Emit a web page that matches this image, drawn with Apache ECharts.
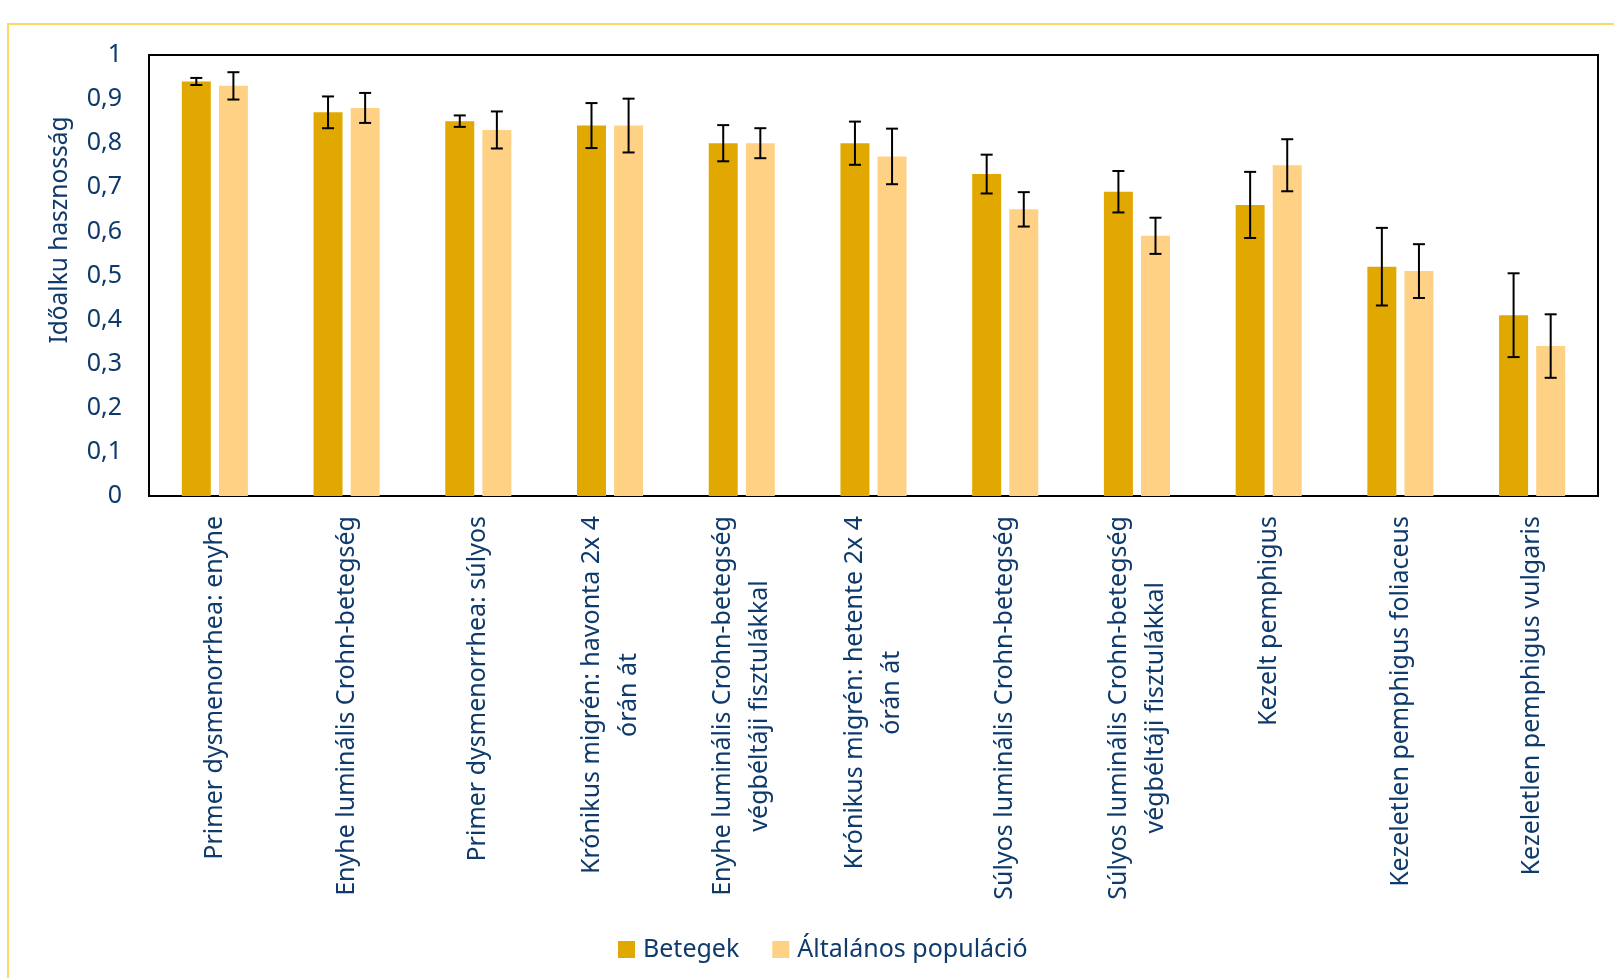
<!DOCTYPE html>
<html>
<head>
<meta charset="utf-8">
<script src="https://cdn.jsdelivr.net/npm/echarts@6/dist/echarts.min.js"></script>
<style>
html,body{margin:0;padding:0;background:#fff;}
#chart{width:1614px;height:978px;}
</style>
</head>
<body>
<div id="chart"></div>
<script>
const categories = [
  "Primer dysmenorrhea: enyhe",
  "Enyhe luminális Crohn-betegség",
  "Primer dysmenorrhea: súlyos",
  "Krónikus migrén: havonta 2x 4\nórán át",
  "Enyhe luminális Crohn-betegség\nvégbéltáji fisztulákkal",
  "Krónikus migrén: hetente 2x 4\nórán át",
  "Súlyos luminális Crohn-betegség",
  "Súlyos luminális Crohn-betegség\nvégbéltáji fisztulákkal",
  "Kezelt pemphigus",
  "Kezeletlen pemphigus foliaceus",
  "Kezeletlen pemphigus vulgaris"
];
const seriesNames = ["Betegek", "Általános populáció"];
const betegek =    [0.94, 0.87, 0.85, 0.84, 0.80, 0.80, 0.73, 0.69, 0.66, 0.52, 0.41];
const altalanos =  [0.93, 0.88, 0.83, 0.84, 0.80, 0.77, 0.65, 0.59, 0.75, 0.51, 0.34];
const betegekErr = [0.008, 0.036, 0.013, 0.051, 0.041, 0.049, 0.044, 0.047, 0.075, 0.088, 0.095];
const altalanosErr = [0.031, 0.034, 0.042, 0.061, 0.034, 0.063, 0.039, 0.041, 0.059, 0.061, 0.072];
const yTicks = { min: 0, max: 1, interval: 0.1 };

const navy = '#0E3A6C';
const BAR_W = 0.22;   // fraction of band
const BAR_GAP = 0.28; // fraction of bar width

function errorSeries(values, errs, side) {
  return {
    type: 'custom',
    name: 'err' + side,
    silent: true,
    z: 10,
    data: values.map((v, i) => [i, v - errs[i], v + errs[i]]),
    renderItem: function (params, api) {
      const band = api.size([1, 0])[0];
      const w = band * BAR_W;
      const off = side * (w + w * BAR_GAP) / 2;
      const lo = api.coord([api.value(0), api.value(1)]);
      const hi = api.coord([api.value(0), api.value(2)]);
      const x = lo[0] + off;
      const cap = 6;
      const st = { stroke: '#000', lineWidth: 2 };
      return {
        type: 'group',
        children: [
          { type: 'line', shape: { x1: x, y1: lo[1], x2: x, y2: hi[1] }, style: st },
          { type: 'line', shape: { x1: x - cap, y1: lo[1], x2: x + cap, y2: lo[1] }, style: st },
          { type: 'line', shape: { x1: x - cap, y1: hi[1], x2: x + cap, y2: hi[1] }, style: st }
        ]
      };
    }
  };
}

const chart = echarts.init(document.getElementById('chart'), null, { renderer: 'canvas' });
chart.setOption({
  animation: false,
  backgroundColor: '#fff',
  textStyle: { fontFamily: 'Noto Sans' },
  grid: { left: 149, top: 55, right: 16, bottom: 482, show: true, borderColor: '#000', borderWidth: 2, backgroundColor: 'transparent' },
  legend: {
    data: seriesNames,
    left: 613, top: 932,
    itemWidth: 17, itemHeight: 17, itemGap: 33,
    icon: 'rect',
    textStyle: { color: navy, fontSize: 25, fontFamily: 'Noto Sans', padding: [0, 0, 0, 3] }
  },
  xAxis: {
    type: 'category',
    data: categories,
    axisLine: { show: true, lineStyle: { color: '#000', width: 2 } },
    axisTick: { show: false },
    axisLabel: {
      interval: 0,
      rotate: 90,
      margin: 20,
      formatter: function (v) { return v.split('\n').map(s => '{a|' + s + '}').join('\n'); },
      rich: { a: { align: 'center', color: navy, fontSize: 25, lineHeight: 37, fontFamily: 'Noto Sans' } }
    }
  },
  yAxis: {
    type: 'value',
    min: yTicks.min, max: yTicks.max, interval: yTicks.interval,
    splitLine: { show: false },
    axisLine: { show: true, lineStyle: { color: '#000', width: 2 } },
    axisTick: { show: false },
    axisLabel: {
      color: navy, fontSize: 25, margin: 27, fontFamily: 'Noto Sans',
      formatter: function (v) { return String(Math.round(v * 10) / 10).replace('.', ','); }
    }
  },
  graphic: [
    { type: 'rect', silent: true, shape: { x: 8, y: 24, width: 3000, height: 3000 }, style: { fill: 'none', stroke: '#FFD966', lineWidth: 2 } },
    { type: 'text', x: 60, y: 230, rotation: Math.PI / 2,
      style: { text: 'Időalku hasznosság', fill: navy, font: '24.5px "Noto Sans"', textAlign: 'center', textVerticalAlign: 'middle' } }
  ],
  series: [
    { name: seriesNames[0], type: 'bar', data: betegek, barWidth: (BAR_W * 100) + '%', barGap: (BAR_GAP * 100) + '%', itemStyle: { color: '#E0A800' } },
    { name: seriesNames[1], type: 'bar', data: altalanos, barWidth: (BAR_W * 100) + '%', barGap: (BAR_GAP * 100) + '%', itemStyle: { color: '#FFD185' } },
    errorSeries(betegek, betegekErr, -1),
    errorSeries(altalanos, altalanosErr, 1)
  ]
});
</script>
</body>
</html>
